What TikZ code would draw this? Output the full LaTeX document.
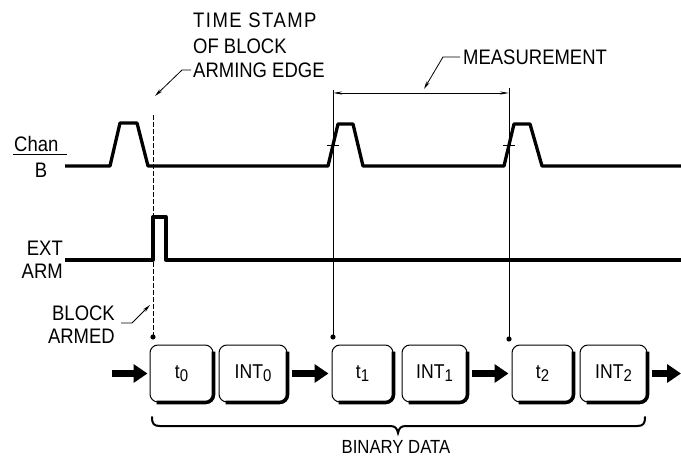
\documentclass[tikz,border=0pt]{standalone}
\usepackage{fontspec}
\setmainfont{Liberation Sans}[FakeStretch=0.88]
\usetikzlibrary{arrows.meta}
\begin{document}
\begin{tikzpicture}[x=1pt,y=-1pt,
  wave/.style={line width=3.3pt, line join=round},
  guide/.style={line width=0.6pt},
  leader/.style={line width=0.8pt, -{Stealth[length=8pt,width=3.5pt]}},
  lbl/.style={inner sep=0pt, font=\fontsize{21}{24}\selectfont},
  databox/.style={draw, line width=1pt, rounded corners=8pt, minimum height=57pt,
    inner sep=0pt, font=\fontsize{20}{20}\selectfont},
  shadeedge/.style={line width=3.6pt, rounded corners=8pt},
  flow/.style={line width=7pt, -{Triangle[length=14pt,width=18pt]}}]
\useasboundingbox (0,0) rectangle (681,460);

% ---- Channel B waveform
\draw[wave] (65,166) -- (110,166) -- (120,123) -- (137,123) -- (148,166)
  -- (328,166) -- (338,124) -- (353,124) -- (363,166)
  -- (504,166) -- (514,124) -- (530,124) -- (542,166) -- (681,166);
% ---- EXT ARM waveform
\draw[wave] (65,260) -- (153,260) -- (153,217) -- (166,217) -- (166,260) -- (681,260);

% ---- labels
\node[lbl, anchor=base west] (chan) at (14,152) {Chan};
\draw[line width=0.9pt] (13,154) -- (67,154);
\node[lbl, anchor=base] (chb) at (41,177) {B};
\node[lbl, anchor=base east] (ext) at (63,255) {EXT};
\node[lbl, anchor=base east] (arm) at (63,278) {ARM};
\node[lbl, anchor=base east] (blk) at (115,320) {BLOCK};
\node[lbl, anchor=base east] (armed) at (115,343) {ARMED};
\node[lbl, anchor=base west] (ts1) at (193,28) {\addfontfeature{LetterSpace=7}TIME STAMP};
\node[lbl, anchor=base west] (ts2) at (193,54) {OF BLOCK};
\node[lbl, anchor=base west] (ts3) at (193,78) {ARMING EDGE};
\node[lbl, anchor=base west] (meas) at (463,65) {MEASUREMENT};
\node[lbl, anchor=base, font=\fontsize{19}{19}\selectfont] (bin) at (396,453) {BINARY DATA};

% ---- data boxes
\node[databox, minimum width=63pt] (t0) at (181.5,373.5) {t\raisebox{-3pt}{\fontsize{17}{17}\selectfont 0}};
\node[databox, minimum width=68pt] (i0) at (253,373.5) {INT\raisebox{-3pt}{\fontsize{17}{17}\selectfont 0}};
\node[databox, minimum width=61pt] (t1) at (362.5,373.5) {t\raisebox{-3pt}{\fontsize{17}{17}\selectfont 1}};
\node[databox, minimum width=65pt] (i1) at (434.5,373.5) {INT\raisebox{-3pt}{\fontsize{17}{17}\selectfont 1}};
\node[databox, minimum width=61pt] (t2) at (542.5,373.5) {t\raisebox{-3pt}{\fontsize{17}{17}\selectfont 2}};
\node[databox, minimum width=67pt] (i2) at (613.5,373.5) {INT\raisebox{-3pt}{\fontsize{17}{17}\selectfont 2}};
\foreach \b in {t0,i0,t1,i1,t2,i2}{
  \draw[shadeedge] ([yshift=-7pt]\b.north east) -- (\b.south east) -- ([xshift=7pt]\b.south west);
}

% ---- flow arrows
\coordinate (fin) at (112,373.5);
\coordinate (fout) at (681,373.5);
\draw[flow] (fin) -- ([xshift=-2pt]t0.west);
\draw[flow, shorten <=4pt, shorten >=3pt] (i0) -- (t1);
\draw[flow, shorten <=4pt, shorten >=3pt] (i1) -- (t2);
\draw[flow, shorten <=4pt] (i2) -- (fout);

% ---- guide lines and dots
\coordinate (g0top) at (153,115);
\coordinate (g0) at (153,337);
\coordinate (g1top) at (333,90);
\coordinate (g1) at (333,337);
\coordinate (g2top) at (509,88);
\coordinate (g2) at (509,339);
\draw[guide, dash pattern=on 5pt off 2pt] (g0top) -- (g0);
\draw[guide] (g1top) -- (g1);
\draw[guide] (g2top) -- (g2);
\foreach \p in {g0,g1,g2}{ \fill (\p) circle (2.6pt); }
% edge ticks
\draw[line width=0.8pt] (327,145) -- (339,145);
\draw[line width=0.8pt] (503,145) -- (515,145);

% ---- measurement bracket
\coordinate (mL) at (333,93);
\coordinate (mR) at (509,93);
\draw[line width=0.9pt, {Stealth[length=9pt,width=3pt]}-{Stealth[length=9pt,width=3pt]}] (mL) -- (mR);

% ---- leaders
\coordinate (tsA) at (155,96);
\coordinate (mA) at (424,89);
\coordinate (baA) at (150,305);
\draw[leader] (191,70) -- (182,70) -- (tsA);
\draw[leader] (460,57) -- (443,57) -- (mA);
\draw[leader] (121,323) -- (132,323) -- (baA);

% ---- brace
\draw[line width=2pt, line cap=round]
  (152,417) .. controls (152,424) and (154,426) .. (160,426) -- (390,426)
  .. controls (395,426) and (397,428) .. (398,433)
  .. controls (399,428) and (401,426) .. (406,426) -- (637,426)
  .. controls (643,426) and (645,424) .. (645,417);
\end{tikzpicture}
\end{document}
